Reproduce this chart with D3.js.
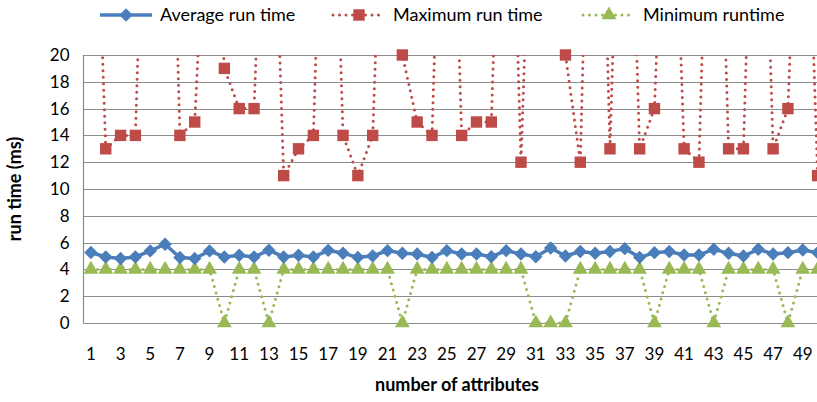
<!DOCTYPE html>
<html>
<head>
<meta charset="utf-8">
<script src="https://cdn.jsdelivr.net/npm/d3@7/dist/d3.min.js"></script>
<style>
body { margin: 0; background: #fff; }
text { font-family: Lato, "Open Sans", sans-serif; fill: #000; }
</style>
</head>
<body>
<svg id="chart" width="817" height="402"></svg>
<script>
(function() {
"use strict";

// number of attributes
var attributes = [1, 2, 3, 4, 5, 6, 7, 8, 9, 10, 11, 12, 13, 14, 15, 16, 17, 18, 19, 20,
                  21, 22, 23, 24, 25, 26, 27, 28, 29, 30, 31, 32, 33, 34, 35, 36, 37, 38, 39, 40,
                  41, 42, 43, 44, 45, 46, 47, 48, 49, 50];

var avgTime = [5.26, 4.93, 4.81, 4.93, 5.38, 5.88, 4.89, 4.81, 5.38, 4.93,
               5.05, 4.93, 5.43, 4.93, 5.05, 4.93, 5.42, 5.2, 4.9, 5.0,
               5.4, 5.2, 5.15, 4.9, 5.4, 5.15, 5.15, 4.95, 5.4, 5.15,
               4.95, 5.6, 5.0, 5.33, 5.2, 5.33, 5.55, 4.9, 5.25, 5.33,
               5.08, 5.08, 5.5, 5.2, 5.0, 5.5, 5.15, 5.25, 5.45, 5.25];

// values above 20 run off the top of the chart
var maxTime = [45, 13, 14, 14, 50, 55, 14, 15, 38, 19,
               16, 16, 45, 11, 13, 14, 50, 14, 11, 14,
               45, 20, 15, 14, 50, 14, 15, 15, 50, 12,
               45, 50, 20, 12, 55, 13, 50, 13, 16, 45,
               13, 12, 50, 13, 13, 50, 13, 16, 45, 11];

var minTime = [4, 4, 4, 4, 4, 4, 4, 4, 4, 0,
               4, 4, 0, 4, 4, 4, 4, 4, 4, 4,
               4, 0, 4, 4, 4, 4, 4, 4, 4, 4,
               0, 0, 0, 4, 4, 4, 4, 4, 0, 4,
               4, 4, 0, 4, 4, 4, 4, 0, 4, 4];

var yTicks = [0, 2, 4, 6, 8, 10, 12, 14, 16, 18, 20];
var xTickLabels = [1, 3, 5, 7, 9, 11, 13, 15, 17, 19, 21, 23, 25, 27, 29, 31, 33, 35, 37, 39, 41, 43, 45, 47, 49];

var left = 83.5, top = 55, bottom = 323, step = 14.83;
var blue = "#4a7ebb", red = "#be4b48", green = "#98b954";

var svg = d3.select("#chart");

var x = d3.scaleBand()
    .domain(attributes)
    .range([left, left + step * attributes.length]);
var cx = function(d) { return x(d) + x.bandwidth() / 2; };

var y = d3.scaleLinear().domain([0, 20]).range([bottom, top]);

// grid
svg.append("g").selectAll("line")
    .data(yTicks)
  .enter().append("line")
    .attr("x1", left).attr("x2", 817)
    .attr("y1", function(d) { return Math.round(y(d)) + 0.5; })
    .attr("y2", function(d) { return Math.round(y(d)) + 0.5; })
    .attr("stroke", "#8c8c8c")
    .attr("stroke-width", 1.2);

svg.append("line")
    .attr("x1", left).attr("x2", left)
    .attr("y1", top).attr("y2", bottom + 0.5)
    .attr("stroke", "#8c8c8c")
    .attr("stroke-width", 1.2);

// axes labels
var yAxis = d3.axisLeft(y).tickValues(yTicks).tickSize(0).tickPadding(14);
svg.append("g")
    .attr("transform", "translate(" + left + ",0)")
    .call(yAxis)
    .call(function(g) { g.select(".domain").remove(); })
    .selectAll("text")
    .style("font-size", "17px")
    .style("font-family", null);

var xAxis = d3.axisBottom(x).tickValues(xTickLabels).tickSize(0).tickPadding(25);
svg.append("g")
    .attr("transform", "translate(0," + bottom + ")")
    .call(xAxis)
    .call(function(g) { g.select(".domain").remove(); })
    .selectAll("text")
    .style("font-size", "17px")
    .style("font-family", null);

svg.append("text")
    .attr("transform", "translate(21," + ((top + bottom) / 2) + ") rotate(-90)")
    .attr("text-anchor", "middle")
    .style("font-size", "18px")
    .style("font-weight", "bold")
    .text("run time (ms)");

svg.append("text")
    .attr("x", 457).attr("y", 391)
    .attr("text-anchor", "middle")
    .style("font-size", "18px")
    .style("font-weight", "bold")
    .text("number of attributes");

svg.append("clipPath").attr("id", "plot")
  .append("rect")
    .attr("x", left).attr("y", top)
    .attr("width", 817 - left).attr("height", bottom - top + 10);

function series(values, color, dotted) {
    var line = d3.line()
        .x(function(d, i) { return cx(attributes[i]); })
        .y(function(d) { return y(d); });
    var path = svg.append("path")
        .datum(values)
        .attr("clip-path", "url(#plot)")
        .attr("fill", "none")
        .attr("stroke", color)
        .attr("d", line);
    if (dotted) {
        path.attr("stroke-width", 3)
            .attr("stroke-dasharray", "0 6.5")
            .attr("stroke-linecap", "round");
    } else {
        path.attr("stroke-width", 3.5);
    }
}

var diamond = d3.symbol().type(d3.symbolSquare).size(90);
var square = d3.symbol().type(d3.symbolSquare).size(130);
var triangle = d3.symbol().type(d3.symbolTriangle).size(95);

function markers(values, color, sym, rot) {
    svg.append("g").selectAll("path")
        .data(values.map(function(v, i) { return {a: attributes[i], v: v}; })
                    .filter(function(d) { return d.v <= 20; }))
      .enter().append("path")
        .attr("d", sym)
        .attr("fill", color)
        .attr("transform", function(d) {
            return "translate(" + cx(d.a) + "," + y(d.v) + ") rotate(" + rot + ")"; });
}

series(minTime, green, true);
series(maxTime, red, true);
series(avgTime, blue, false);
markers(minTime, green, triangle, 0);
markers(maxTime, red, square, 0);
markers(avgTime, blue, diamond, 45);

// legend
var legend = [
    {name: "Average run time", color: blue, dotted: false, sym: diamond, rot: 45, x: 100},
    {name: "Maximum run time", color: red, dotted: true, sym: square, rot: 0, x: 333},
    {name: "Minimum runtime", color: green, dotted: true, sym: triangle, rot: 0, x: 583}
];
var item = svg.append("g").selectAll("g")
    .data(legend)
  .enter().append("g")
    .attr("transform", function(d) { return "translate(" + d.x + ",15)"; });

item.append("line")
    .attr("x1", 0).attr("x2", 52)
    .attr("stroke", function(d) { return d.color; })
    .attr("stroke-width", function(d) { return d.dotted ? 3 : 3.5; })
    .attr("stroke-dasharray", function(d) { return d.dotted ? "0 6.5" : null; })
    .attr("stroke-linecap", function(d) { return d.dotted ? "round" : "butt"; });

item.append("path")
    .attr("d", function(d) { return d.sym(); })
    .attr("fill", function(d) { return d.color; })
    .attr("transform", function(d) { return "translate(26,0) rotate(" + d.rot + ")"; });

item.append("text")
    .attr("x", 60).attr("y", 6)
    .style("font-size", "18px")
    .text(function(d) { return d.name; });

})();
</script>
</body>
</html>
